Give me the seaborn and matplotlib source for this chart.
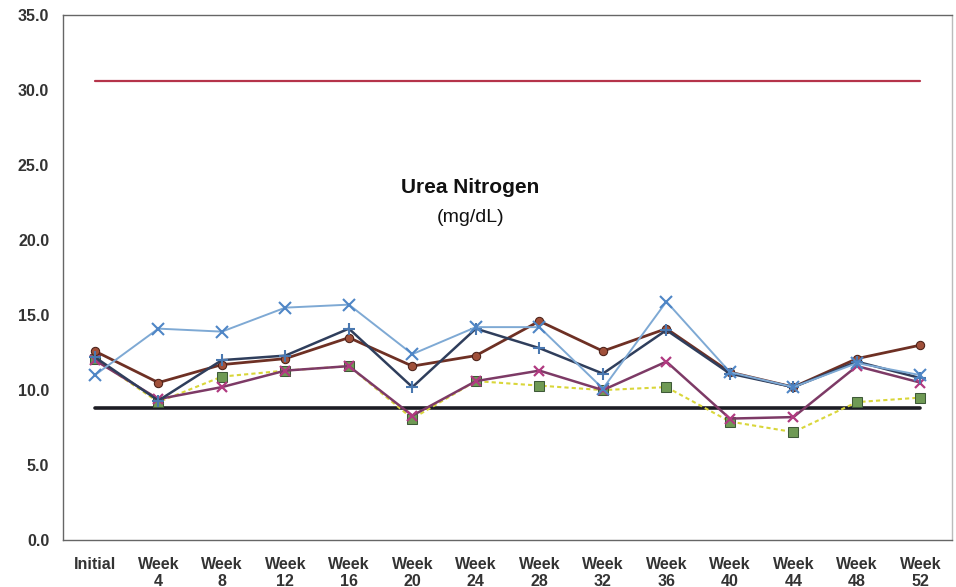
import numpy as np
import pandas as pd
import matplotlib
matplotlib.use("Agg")
import matplotlib.pyplot as plt
import seaborn as sns

# -------------------------------
# Data
# -------------------------------

visits = ["Initial", "Week\n4", "Week\n8", "Week\n12", "Week\n16", "Week\n20", "Week\n24",
          "Week\n28", "Week\n32", "Week\n36", "Week\n40", "Week\n44", "Week\n48", "Week\n52"]

upper_limit = [30.6] * 14
lower_limit = [8.8] * 14

light_blue = [11.0, 14.1, 13.9, 15.5, 15.7, 12.4, 14.2, 14.2, 10.1, 15.9, 11.2, 10.2, 11.8, 11.0]
dark_blue = [12.2, 9.3, 12.0, 12.3, 14.1, 10.2, 14.1, 12.8, 11.1, 14.0, 11.1, 10.2, 11.9, 10.8]
brown = [12.6, 10.5, 11.7, 12.1, 13.5, 11.6, 12.3, 14.6, 12.6, 14.1, 11.2, 10.2, 12.1, 13.0]
magenta = [12.0, 9.4, 10.2, 11.3, 11.6, 8.3, 10.6, 11.3, 10.0, 11.9, 8.1, 8.2, 11.6, 10.5]
green = [12.1, 9.2, 10.9, 11.3, 11.6, 8.1, 10.6, 10.3, 10.0, 10.2, 7.9, 7.2, 9.2, 9.5]

yticks = [0, 5, 10, 15, 20, 25, 30, 35]

# -------------------------------
# Plot
# -------------------------------

sns.set_style("white")
plt.rcParams['font.family'] = ['Liberation Sans', 'DejaVu Sans']

fig = plt.figure(figsize=(9.56, 5.87), dpi=100)
ax = fig.add_axes([0.066, 0.080, 0.930, 0.894])

# reference limits
sns.lineplot(x=visits, y=upper_limit, sort=False, color="#b5344a", linewidth=1.6, ax=ax)
sns.lineplot(x=visits, y=lower_limit, sort=False, color="#1c1c24", linewidth=2.6, ax=ax)

# subject lines
sns.lineplot(x=visits, y=green, sort=False, color="#d9d63a", linewidth=1.5, linestyle=(0, (2, 1.5)),
             marker="s", markersize=7, markerfacecolor="#6f9a55", markeredgecolor="#3e5a38", ax=ax)
sns.lineplot(x=visits, y=magenta, sort=False, color="#7d3a66", linewidth=1.8,
             marker="x", markersize=7, markeredgewidth=1.6, markeredgecolor="#b03a80", ax=ax)
sns.lineplot(x=visits, y=brown, sort=False, color="#6e3024", linewidth=2.0,
             marker="o", markersize=6, markerfacecolor="#a0503a", markeredgecolor="#4a2018", ax=ax)
sns.lineplot(x=visits, y=dark_blue, sort=False, color="#2f3e5c", linewidth=1.8,
             marker="+", markersize=8, markeredgewidth=1.5, markeredgecolor="#4a78b0", ax=ax)
sns.lineplot(x=visits, y=light_blue, sort=False, color="#7ea9d4", linewidth=1.4,
             marker="x", markersize=8, markeredgewidth=1.5, markeredgecolor="#4f86c6", ax=ax)

ax.set_xlim(-0.5, 13.5)
ax.set_ylim(0, 35)
ax.set_yticks(yticks)
ax.set_yticklabels([f"{v:.1f}" for v in yticks])
ax.set_xlabel("")
ax.set_ylabel("")

# category boundary ticks (Excel style)
ax.set_xticks(np.arange(-0.5, 14, 1.0), minor=True)
ax.tick_params(axis="x", which="major", length=0, pad=12, labelsize=11.5)
ax.tick_params(axis="x", which="minor", direction="out", length=3, width=0.8, color="#555555")
ax.tick_params(axis="y", direction="out", length=4, width=0.8, colors="#555555", pad=6, labelsize=11.5)
for lab in ax.get_xticklabels() + ax.get_yticklabels():
    lab.set_fontweight("bold")
    lab.set_color("#333333")
for lab in ax.get_xticklabels():
    lab.set_linespacing(1.15)

for side in ["left", "bottom", "top", "right"]:
    ax.spines[side].set_visible(True)
    ax.spines[side].set_color("#666666")
    ax.spines[side].set_linewidth(1.0)
ax.spines["right"].set_color("#bbbbbb")

ax.text(0.458, 0.672, "Urea Nitrogen", transform=ax.transAxes, ha="center", va="center",
        fontsize=15, fontweight="bold", color="#111111")
ax.text(0.458, 0.615, "(mg/dL)", transform=ax.transAxes, ha="center", va="center",
        fontsize=14, color="#111111")

fig.savefig("out.png", dpi=100)
